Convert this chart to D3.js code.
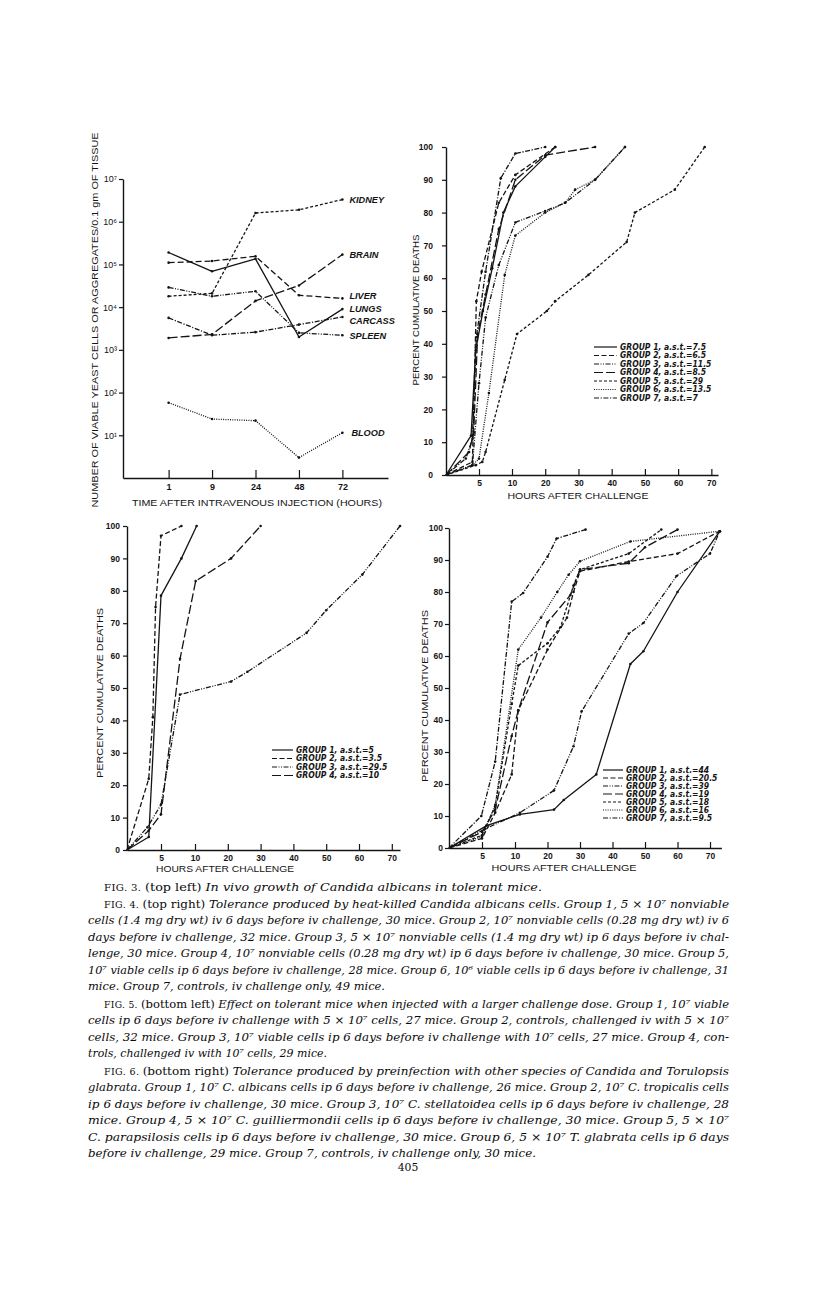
<!DOCTYPE html>
<html><head><meta charset="utf-8">
<script src="https://cdn.jsdelivr.net/npm/d3@7/dist/d3.min.js"></script>
<style>
body{margin:0;background:#fff;}
svg{display:block;background:#fff;}
</style></head><body>
<svg id="fig" width="816" height="1307"></svg>
<script>
// ---------- FIG. 3 (top left) ----------
const fig3Times = ["1","9","24","48","72"];
const fig3Kidney  = [1.8e4, 2.1e4, 1.6e6, 1.9e6, 3.3e6];
const fig3Brain   = [1.9e3, 2.3e3, 1.4e4, 3.2e4, 1.7e5];
const fig3Liver   = [1.1e5, 1.2e5, 1.55e5, 1.9e4, 1.6e4];
const fig3Lungs   = [1.9e5, 6.9e4, 1.35e5, 2.0e3, 9.0e3];
const fig3Carcass = [5.6e3, 2.2e3, 2.6e3, 3.9e3, 5.9e3];
const fig3Spleen  = [2.9e4, 1.8e4, 2.35e4, 2.5e3, 2.2e3];
const fig3Blood   = [58, 24, 22, 3, 11.5];
const fig3Names   = ["KIDNEY","BRAIN","LIVER","LUNGS","CARCASS","SPLEEN","BLOOD"];
const fig3YTicks  = [10, 100, 1e3, 1e4, 1e5, 1e6, 1e7];
const fig3YTickLabels = ["10¹","10²","10³","10⁴","10⁵","10⁶","10⁷"];

// ---------- FIG. 4 (top right) [hours, percent] ----------
const fig4G1 = [[0,0],[3.8,12],[4.5,38],[5.6,50],[7,63],[8.7,80],[11,88],[20,97],[23,100]];
const fig4G2 = [[0,0],[4,4],[4.6,53],[5.4,62],[8,83],[11,91.5],[23,100]];
const fig4G3 = [[0,0],[4,3],[5,28],[6,48],[8,64],[11,77],[20,80.5],[26,83],[35,90],[44,100]];
const fig4G4 = [[0,0],[3.5,7],[4.2,13],[4.8,43],[6,55],[8,75],[11,90],[20,97.5],[35,100]];
const fig4G5 = [[0,0],[4.5,3],[5.5,4],[6,7],[8.9,29],[11.5,43],[20.5,50],[23,53],[33,61],[44.5,71],[47,80],[59,87],[68,100]];
const fig4G6 = [[0,0],[4,3],[5,5],[6.5,25],[8.9,61],[11,73],[20,80],[26,83],[29,87],[35,90],[44,100]];
const fig4G7 = [[0,0],[3,5],[4,11],[4.6,42],[6,62],[8.3,90.5],[11,98],[20,100]];
const fig4Legend = ["GROUP 1, a.s.t.=7.5","GROUP 2, a.s.t.=6.5","GROUP 3, a.s.t.=11.5","GROUP 4, a.s.t.=8.5","GROUP 5, a.s.t.=29","GROUP 6, a.s.t.=13.5","GROUP 7, a.s.t.=7"];

// ---------- FIG. 5 (bottom left) ----------
const fig5G1 = [[0,0],[3.2,4],[5,78.5],[8,90],[10.5,100]];
const fig5G2 = [[0,0],[3.2,22],[3.8,41],[4.2,75],[5,97],[8,100]];
const fig5G3 = [[0,0],[3,7],[5,14],[7.8,48],[21,52],[26,55],[44,67],[50,74],[61,85],[72.5,100]];
const fig5G4 = [[0,0],[3.2,6],[5,11],[7.8,59],[10.2,83],[21,90],[30,100]];
const fig5Legend = ["GROUP 1, a.s.t.=5","GROUP 2, a.s.t.=3.5","GROUP 3, a.s.t.=29.5","GROUP 4, a.s.t.=10"];

// ---------- FIG. 6 (bottom right) ----------
const fig6G1 = [[0,0],[5.7,7],[11.5,10.5],[22,12],[25,15],[35,23],[45.5,57.5],[49.5,61.5],[60,80],[73,99]];
const fig6G2 = [[0,0],[5,3],[7,11],[9.5,23],[11,43],[20,62],[26,72],[28,80],[30,86.5],[45,89.5],[60,92],[73,99]];
const fig6G3 = [[0,0],[5.5,6],[11.5,11],[22,18],[28,31.8],[30.5,42.7],[45,67],[49.5,70.3],[59.7,85],[70,92],[73,99]];
const fig6G4 = [[0,0],[5,5],[7,12],[9.5,35],[11,43],[20,70.5],[27,79],[30,87],[45,89],[50,94],[60,99.5]];
const fig6G5 = [[0,0],[5,4],[7,13],[9.5,45],[11,57],[20,64],[24,69],[28,82],[30,87],[45,92],[55,99.5]];
const fig6G6 = [[0,0],[5,3.6],[7,13.5],[11,62],[18,72],[23,80],[26.5,85.4],[30,89.6],[45.5,95.8],[73,99]];
const fig6G7 = [[0,0],[4.9,10],[7,27],[9.5,77],[12.5,79.7],[20,91],[22.8,96.7],[31.7,99.5]];
const fig6Legend = ["GROUP 1, a.s.t.=44","GROUP 2, a.s.t.=20.5","GROUP 3, a.s.t.=39","GROUP 4, a.s.t.=19","GROUP 5, a.s.t.=18","GROUP 6, a.s.t.=16","GROUP 7, a.s.t.=9.5"];

const pctTicks  = [0,10,20,30,40,50,60,70,80,90,100];
const hourTicks = [5,10,20,30,40,50,60,70];

// ---------- caption ----------
const captionLines = [
 [["FIG. 3. ","s"],["(top left) ","r"],["In vivo growth of Candida albicans in tolerant mice.","i"]],
 [["FIG. 4. ","s"],["(top right) ","r"],["Tolerance produced by heat-killed Candida albicans cells. Group 1, 5 × 10⁷ nonviable","i"]],
 [["cells (1.4 mg dry wt) iv 6 days before iv challenge, 30 mice. Group 2, 10⁷ nonviable cells (0.28 mg dry wt) iv 6","i"]],
 [["days before iv challenge, 32 mice. Group 3, 5 × 10⁷ nonviable cells (1.4 mg dry wt) ip 6 days before iv chal-","i"]],
 [["lenge, 30 mice. Group 4, 10⁷ nonviable cells (0.28 mg dry wt) ip 6 days before iv challenge, 30 mice. Group 5,","i"]],
 [["10⁷ viable cells ip 6 days before iv challenge, 28 mice. Group 6, 10⁶ viable cells ip 6 days before iv challenge, 31","i"]],
 [["mice. Group 7, controls, iv challenge only, 49 mice.","i"]],
 [["FIG. 5. ","s"],["(bottom left) ","r"],["Effect on tolerant mice when injected with a larger challenge dose. Group 1, 10⁷ viable","i"]],
 [["cells ip 6 days before iv challenge with 5 × 10⁷ cells, 27 mice. Group 2, controls, challenged iv with 5 × 10⁷","i"]],
 [["cells, 32 mice. Group 3, 10⁷ viable cells ip 6 days before iv challenge with 10⁷ cells, 27 mice. Group 4, con-","i"]],
 [["trols, challenged iv with 10⁷ cells, 29 mice.","i"]],
 [["FIG. 6. ","s"],["(bottom right) ","r"],["Tolerance produced by preinfection with other species of Candida and Torulopsis","i"]],
 [["glabrata. Group 1, 10⁷ C. albicans cells ip 6 days before iv challenge, 26 mice. Group 2, 10⁷ C. tropicalis cells","i"]],
 [["ip 6 days before iv challenge, 30 mice. Group 3, 10⁷ C. stellatoidea cells ip 6 days before iv challenge, 28","i"]],
 [["mice. Group 4, 5 × 10⁷ C. guilliermondii cells ip 6 days before iv challenge, 30 mice. Group 5, 5 × 10⁷","i"]],
 [["C. parapsilosis cells ip 6 days before iv challenge, 30 mice. Group 6, 5 × 10⁷ T. glabrata cells ip 6 days","i"]],
 [["before iv challenge, 29 mice. Group 7, controls, iv challenge only, 30 mice.","i"]]
];
const captionY    = [887,904,920,937,953,970,986,1004,1020,1037,1053,1071,1087,1104,1120,1137,1153];
const captionX0   = [104,104,88,88,88,88,88,104,88,88,88,104,88,88,88,88,88];
const captionX1   = [542,729,729,729,729,729,385,729,729,729,327,729,729,729,729,729,536];
const pageNumber  = "405";

// ================= drawing =================
const ink = "#141414";
const SANS = "'Liberation Sans', Arial, sans-serif";
const NARROW = "'Liberation Sans Narrow','DejaVu Sans Condensed','Liberation Sans',sans-serif";
const SERIF = "'DejaVu Serif', serif";
const svg = d3.select("#fig");

const dashes = {
  solid: null,
  dashed: "5,2.5",
  dashdotdot: "5,1.5,1,1.5,1,1.5",
  longdash: "9,3",
  shortdash: "3,2",
  dotted: "1,1.3",
  dashdot: "5,1.6,1.2,1.6"
};
const groupDash = [dashes.solid, dashes.dashed, dashes.dashdotdot, dashes.longdash, dashes.shortdash, dashes.dotted, dashes.dashdot];

function styleAxis(a){
  a.select(".domain").attr("stroke", ink).attr("stroke-width", 1.4);
  a.selectAll(".tick line").attr("stroke", ink).attr("stroke-width", 1.2);
  a.selectAll(".tick text").attr("fill", ink).attr("font-family", SANS)
    .attr("font-size", 8.5).attr("font-weight", "bold");
}

function drawPath(g, pts, xf, yf, dash){
  const line = d3.line().x(xf).y(yf);
  g.append("path").attr("d", line(pts)).attr("fill","none")
    .attr("stroke", ink).attr("stroke-width", 1.3)
    .attr("stroke-dasharray", dash).attr("stroke-linejoin","round");
  g.selectAll(null).data(pts.slice(1)).join("circle")
    .attr("cx", xf).attr("cy", yf).attr("r", 1.3).attr("fill", ink);
}

function title(g, txt, x, y, len, rotate){
  const t = g.append("text").text(txt)
    .attr("font-family", SANS).attr("font-size", 9).attr("fill", ink)
    .attr("text-anchor","middle").attr("textLength", len).attr("lengthAdjust","spacingAndGlyphs");
  if (rotate) t.attr("transform", `translate(${x},${y}) rotate(-90)`).attr("dy","0.35em");
  else t.attr("x", x).attr("y", y).attr("dy","0.35em");
}

// ---- FIG 3 ----
(function(){
  const g = svg.append("g");
  const x = d3.scalePoint().domain(fig3Times).range([123,388]).padding(1.05);
  const y = d3.scaleLog().domain([1,1e7]).range([478,179]);
  const ya = g.append("g").attr("transform","translate(123,0)")
    .call(d3.axisLeft(y).tickValues(fig3YTicks).tickSize(4).tickPadding(2).tickSizeOuter(0)
      .tickFormat((d,i)=>fig3YTickLabels[i]));
  styleAxis(ya);
  ya.selectAll(".tick text").attr("font-size", 9).attr("font-weight","normal");
  const xa = g.append("g").attr("transform","translate(0,478)")
    .call(d3.axisBottom(x).tickSizeInner(-8).tickSizeOuter(0).tickPadding(6));
  styleAxis(xa);
  xa.selectAll(".tick text").attr("font-size", 9);

  const series = [fig3Kidney, fig3Brain, fig3Liver, fig3Lungs, fig3Carcass, fig3Spleen, fig3Blood];
  const sd = [dashes.shortdash, dashes.longdash, "6,3", dashes.solid, dashes.dashdot, dashes.dashdotdot, dashes.dotted];
  const labelDy = [0,0,-3,0,4,1,0];
  series.forEach((vals, k)=>{
    const pts = vals.map((v,i)=>[fig3Times[i], v]);
    drawPath(g, [pts[0]].concat(pts), d=>x(d[0]), d=>y(d[1]), sd[k]);
    g.append("text").text(fig3Names[k])
      .attr("x", x(fig3Times[4]) + 7 + (k===6 ? 2 : 0))
      .attr("y", y(vals[4]) + labelDy[k]).attr("dy","0.35em")
      .attr("font-family", SANS).attr("font-size", 9.2).attr("font-weight","bold")
      .attr("font-style","italic").attr("fill", ink);
  });
  title(g, "NUMBER OF VIABLE YEAST CELLS OR AGGREGATES/0.1 gm OF TISSUE", 95, 320, 375, true);
  title(g, "TIME AFTER INTRAVENOUS INJECTION (HOURS)", 257, 503, 250, false);
})();

// ---- percent panels ----
function pctPanel(cfg){
  const g = svg.append("g");
  const x = d3.scaleLinear().domain(cfg.xDomain).range(cfg.xRange);
  const y = d3.scaleLinear().domain([0,100]).range(cfg.yRange);
  const ya = g.append("g").attr("transform",`translate(${cfg.xRange[0]},0)`)
    .call(d3.axisLeft(y).tickValues(pctTicks).tickSize(4).tickPadding(cfg.yPad).tickSizeOuter(0));
  styleAxis(ya);
  const xa = g.append("g").attr("transform",`translate(0,${cfg.yRange[0]})`)
    .call(d3.axisBottom(x).tickValues(hourTicks).tickSizeInner(-6).tickSizeOuter(0).tickPadding(5));
  styleAxis(xa);
  cfg.series.forEach((pts,k)=>{
    drawPath(g, pts, d=>x(d[0]), d=>y(d[1]), groupDash[k]);
  });
  // legend
  const L = cfg.legend;
  cfg.legendText.forEach((t,k)=>{
    const yy = L.y0 + k*L.step;
    g.append("line").attr("x1", L.x0).attr("x2", L.x1).attr("y1", yy).attr("y2", yy)
      .attr("stroke", ink).attr("stroke-width", 1.2).attr("stroke-dasharray", groupDash[k]);
    g.append("text").text(t).attr("x", L.x1 + 3).attr("y", yy).attr("dy","0.35em")
      .attr("font-family", NARROW).attr("font-size", 8.5).attr("font-style","italic")
      .attr("font-weight","bold").attr("fill", ink);
  });
  title(g, "PERCENT CUMULATIVE DEATHS", cfg.yTitle[0], cfg.yTitle[1], cfg.yTitle[2], true);
  title(g, "HOURS AFTER CHALLENGE", cfg.xTitle[0], cfg.xTitle[1], cfg.xTitle[2], false);
}

pctPanel({xDomain:[0,10,72], xRange:[446,512,718], yRange:[475,147], yPad:9,
  series:[fig4G1,fig4G2,fig4G3,fig4G4,fig4G5,fig4G6,fig4G7], legendText: fig4Legend,
  legend:{x0:594, x1:617, y0:347, step:8.5}, yTitle:[416,310,151], xTitle:[578,496,141]});
pctPanel({xDomain:[0,10,72.5], xRange:[127,195,400], yRange:[850,526], yPad:3,
  series:[fig5G1,fig5G2,fig5G3,fig5G4], legendText: fig5Legend,
  legend:{x0:272, x1:293, y0:750, step:8.5}, yTitle:[100,693,170], xTitle:[225,869,138]});
pctPanel({xDomain:[0,10,73.5], xRange:[449,515,721.4], yRange:[848,528], yPad:2,
  series:[fig6G1,fig6G2,fig6G3,fig6G4,fig6G5,fig6G6,fig6G7], legendText: fig6Legend,
  legend:{x0:603, x1:623, y0:770, step:8}, yTitle:[425,696,172], xTitle:[564,868,145]});

// ---- caption ----
const cap = svg.append("g").attr("fill", "#0a0a0a").attr("font-family", SERIF);
captionLines.forEach((segs, i)=>{
  const t = cap.append("text").attr("x", captionX0[i]).attr("y", captionY[i] + 4)
    .attr("font-size", 10.8)
    .attr("textLength", captionX1[i] - captionX0[i]).attr("lengthAdjust","spacingAndGlyphs");
  segs.forEach(([s, st])=>{
    const sp = t.append("tspan").text(s);
    if (st === "i") sp.attr("font-style","italic");
    if (st === "s") sp.attr("font-size", 8.6).attr("letter-spacing", 0.3);
  });
});
cap.append("text").text(pageNumber).attr("x", 408).attr("y", 1171)
  .attr("text-anchor","middle").attr("font-size", 10.8);
</script>
</body></html>
